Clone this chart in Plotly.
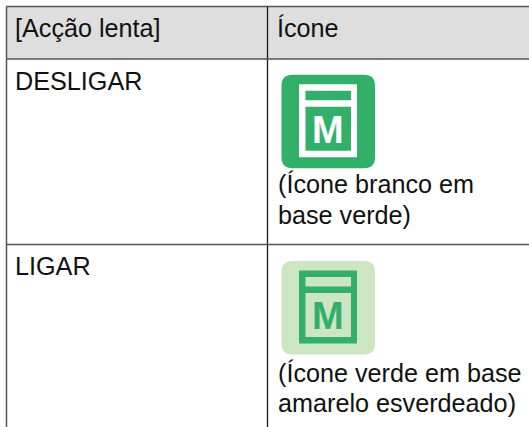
import plotly.graph_objects as go

W, H = 529, 427
headers = ["[Acção lenta]", "Ícone"]
states = ["DESLIGAR", "LIGAR"]
captions = [["(Ícone branco em", "base verde)"], ["(Ícone verde em base", "amarelo esverdeado)"]]
icon_letter = "M"
icon_base = ["#32B06A", "#CCE5C3"]
icon_line = ["#FFFFFF", "#32B06A"]
icon_tops = [74.7, 261]
row_tops = [59, 244.5]
caption_tops = [184.3, 372.6]
FONT = "Liberation Sans"
FS = 25.2
HEADER_BG = "#DEDEDE"
LINE = "#1A1A1A"
SOFT_LINE = "#555555"
X0, XM, XR, Y0 = 6.5, 267.5, 529, 6.5

shapes = []
annots = []

def rect(x0, y0, x1, y1, fill, line=None, w=0):
    shapes.append(dict(type="rect", xref="x", yref="y", x0=x0, y0=y0, x1=x1, y1=y1,
                       fillcolor=fill, line=dict(color=line or fill, width=w)))

def seg(x0, y0, x1, y1, color=LINE, w=1.3):
    shapes.append(dict(type="line", xref="x", yref="y", x0=x0, y0=y0, x1=x1, y1=y1,
                       line=dict(color=color, width=w)))

def text(x, y, s, size=FS, color="#111111", anchor="left", bold=False):
    annots.append(dict(x=x, y=y, text=f"<b>{s}</b>" if bold else s, xref="x", yref="y",
                       showarrow=False, xanchor=anchor, yanchor="middle",
                       font=dict(family=FONT, size=size, color=color)))

def rounded(x0, y0, x1, y1, r, fill):
    p = (f"M{x0+r},{y0} L{x1-r},{y0} Q{x1},{y0} {x1},{y0+r} L{x1},{y1-r} Q{x1},{y1} {x1-r},{y1} "
         f"L{x0+r},{y1} Q{x0},{y1} {x0},{y1-r} L{x0},{y0+r} Q{x0},{y0} {x0+r},{y0} Z")
    shapes.append(dict(type="path", xref="x", yref="y", path=p, fillcolor=fill, line=dict(width=0)))

# header and grid
rect(X0, Y0, XR, row_tops[0], HEADER_BG)
seg(X0, Y0, XR, Y0, SOFT_LINE, 1.5)
seg(X0, Y0, X0, H, SOFT_LINE, 1.5)
seg(XM, Y0, XM, H)
for y in row_tops:
    seg(X0, y, XR, y, SOFT_LINE, 1.5)

text(12.5, 28, headers[0])
text(274.5, 28, headers[1])

for i, state in enumerate(states):
    text(12.5, row_tops[i] + 21.6, state)
    t = icon_tops[i]
    rounded(281.5, t, 375, t + 93.5, 11, icon_base[i])
    rect(299, t + 9.5, 357, t + 82.5, icon_line[i])
    rect(305.5, t + 16, 351, t + 25.5, icon_base[i])
    rect(305.5, t + 32, 351, t + 76, icon_base[i])
    text(328.2, t + 55, icon_letter, size=38, color=icon_line[i], anchor="center", bold=True)
    for j, line in enumerate(captions[i]):
        text(275.5, caption_tops[i] + j * 30.5, line)

fig = go.Figure()
fig.update_layout(
    width=W, height=H, margin=dict(l=0, r=0, t=0, b=0),
    paper_bgcolor="white", plot_bgcolor="white", showlegend=False,
    xaxis=dict(range=[0, W], visible=False, fixedrange=True),
    yaxis=dict(range=[H, 0], visible=False, fixedrange=True),
    shapes=shapes, annotations=annots,
)
fig.write_html("out.html", config=dict(displayModeBar=False),
               post_script="document.body.style.margin='0';document.body.style.overflow='hidden';")
